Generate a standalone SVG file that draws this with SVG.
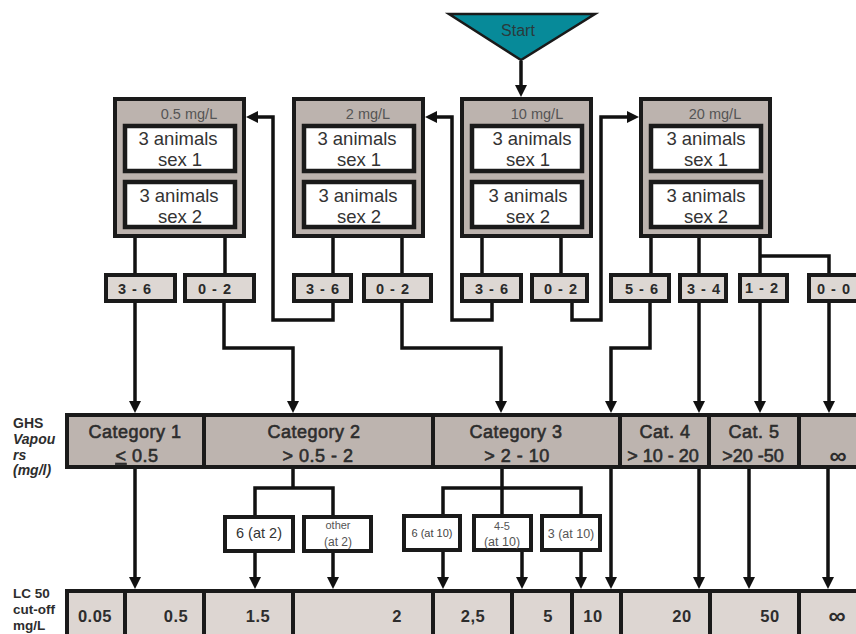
<svg xmlns="http://www.w3.org/2000/svg" width="856" height="634" viewBox="0 0 856 634">
<defs>
<marker id="ah" markerWidth="12" markerHeight="12" refX="6" refY="6" orient="auto" markerUnits="userSpaceOnUse"><path d="M0,0 L12,6 L0,12 z" fill="#111"/></marker>
<style>
text{font-family:"Liberation Sans",Arial,sans-serif;fill:#333}
.outer{fill:#bcb3ae;stroke:#1a1a1a;stroke-width:4}
.inner{fill:#fff;stroke:#1a1a1a;stroke-width:4.5}
.lbl{fill:#ddd7d3;stroke:#1a1a1a;stroke-width:4}
.cat{fill:#bdb4af;stroke:#1a1a1a;stroke-width:4}
.val{fill:#ddd6d2;stroke:#1a1a1a;stroke-width:4}
.sub{fill:#fff;stroke:#1a1a1a;stroke-width:4}
.hd{font-size:14.5px;fill:#555;text-anchor:middle}
.an{font-size:18.5px;text-anchor:middle}
.lt{font-size:14.5px;font-weight:bold;text-anchor:middle;letter-spacing:1px;fill:#2a2a2a}
.ct{font-size:18px;text-anchor:middle;letter-spacing:0.5px;fill:#2d2d2d;stroke:#2d2d2d;stroke-width:0.6}
.vt{font-size:16.5px;font-weight:bold;text-anchor:middle;letter-spacing:0.5px;fill:#2d2d2d}
.inf{font-size:24px;font-weight:bold;text-anchor:middle;fill:#2d2d2d}
.side{font-size:14px;font-weight:bold;fill:#2d2d2d}
.c{stroke:#111;stroke-width:3.5;fill:none}
.ca{stroke:#111;stroke-width:3.5;fill:none;marker-end:url(#ah)}
</style>
</defs>

<g id="start">
<path d="M449,14 L595,14 L521,60 z" fill="#078a99" stroke="#1a1a1a" stroke-width="2.5" stroke-linejoin="miter"/>
<text x="518" y="36" style="font-size:16px;text-anchor:middle;fill:#2a3a3c">Start</text>
</g>

<g id="box-0.5">
<rect class="outer" x="115" y="99" width="129" height="137"/>
<text class="hd" x="189" y="119">0.5 mg/L</text>
<rect class="inner" x="125" y="126" width="110" height="45"/>
<text class="an" x="178" y="145">3 animals</text><text class="an" x="180" y="166">sex 1</text>
<rect class="inner" x="125" y="182" width="110" height="45"/>
<text class="an" x="179" y="202">3 animals</text><text class="an" x="180" y="223">sex 2</text>
</g>

<g id="box-2">
<rect class="outer" x="294" y="99" width="129" height="137"/>
<text class="hd" x="368" y="119">2 mg/L</text>
<rect class="inner" x="304" y="126" width="110" height="45"/>
<text class="an" x="357" y="145">3 animals</text><text class="an" x="359" y="166">sex 1</text>
<rect class="inner" x="304" y="182" width="110" height="45"/>
<text class="an" x="358" y="202">3 animals</text><text class="an" x="359" y="223">sex 2</text>
</g>

<g id="box-10">
<rect class="outer" x="462" y="99" width="129" height="137"/>
<text class="hd" x="537" y="119">10 mg/L</text>
<rect class="inner" x="472" y="126" width="110" height="45"/>
<text class="an" x="532" y="145">3 animals</text><text class="an" x="528" y="166">sex 1</text>
<rect class="inner" x="472" y="182" width="110" height="45"/>
<text class="an" x="528" y="202">3 animals</text><text class="an" x="528" y="223">sex 2</text>
</g>

<g id="box-20">
<rect class="outer" x="641" y="99" width="129" height="137"/>
<text class="hd" x="715" y="119">20 mg/L</text>
<rect class="inner" x="651" y="126" width="110" height="45"/>
<text class="an" x="706" y="145">3 animals</text><text class="an" x="706" y="166">sex 1</text>
<rect class="inner" x="651" y="182" width="110" height="45"/>
<text class="an" x="706" y="202">3 animals</text><text class="an" x="706" y="223">sex 2</text>
</g>

<g id="l1-36"><rect class="lbl" x="106" y="275" width="69" height="26"/><text class="lt" x="135" y="294">3 - 6</text></g>
<g id="l1-02"><rect class="lbl" x="185" y="275" width="69" height="26"/><text class="lt" x="215" y="294">0 - 2</text></g>
<g id="l2-36"><rect class="lbl" x="294" y="275" width="57" height="26"/><text class="lt" x="323" y="294">3 - 6</text></g>
<g id="l2-02"><rect class="lbl" x="364" y="275" width="67" height="26"/><text class="lt" x="393" y="294">0 - 2</text></g>
<g id="l3-36"><rect class="lbl" x="462" y="275" width="59" height="26"/><text class="lt" x="492" y="294">3 - 6</text></g>
<g id="l3-02"><rect class="lbl" x="532" y="275" width="55" height="26"/><text class="lt" x="561" y="294">0 - 2</text></g>
<g id="l4-56"><rect class="lbl" x="611" y="275" width="58" height="26"/><text class="lt" x="642" y="294">5 - 6</text></g>
<g id="l4-34"><rect class="lbl" x="680" y="275" width="46" height="26"/><text class="lt" x="704" y="294">3 - 4</text></g>
<g id="l4-12"><rect class="lbl" x="740" y="275" width="47" height="26"/><text class="lt" x="762" y="293">1 - 2</text></g>
<g id="l4-00"><rect class="lbl" x="809" y="275" width="60" height="26"/><text class="lt" x="834" y="294">0 - 0</text></g>

<g id="ghs-label">
<text class="side" x="13" y="428">GHS</text>
<text class="side" x="13" y="444" font-style="italic">Vapou</text>
<text class="side" x="13" y="460" font-style="italic">rs</text>
<text class="side" x="13" y="475" font-style="italic">(mg/l)</text>
</g>
<g id="lc50-label">
<text class="side" x="13" y="598" style="font-size:13.5px">LC 50</text>
<text class="side" x="13" y="614" style="font-size:13.5px">cut-off</text>
<text class="side" x="13" y="630" style="font-size:13.5px">mg/L</text>
</g>

<g id="cat1"><rect class="cat" x="67" y="415" width="137" height="52"/><text class="ct" x="135" y="438">Category 1</text><text class="ct" x="137" y="462"><tspan text-decoration="underline">&lt;</tspan> 0.5</text></g>
<g id="cat2"><rect class="cat" x="204" y="415" width="229" height="52"/><text class="ct" x="314" y="438">Category 2</text><text class="ct" x="318" y="462">&gt; 0.5 - 2</text></g>
<g id="cat3"><rect class="cat" x="433" y="415" width="187" height="52"/><text class="ct" x="516" y="438">Category 3</text><text class="ct" x="517" y="462">&gt; 2 - 10</text></g>
<g id="cat4"><rect class="cat" x="620" y="415" width="89" height="52"/><text class="ct" x="665" y="438">Cat. 4</text><text class="ct" x="663" y="462" style="letter-spacing:0">&gt; 10 - 20</text></g>
<g id="cat5"><rect class="cat" x="709" y="415" width="90" height="52"/><text class="ct" x="754" y="438">Cat. 5</text><text class="ct" x="753" y="462" style="letter-spacing:0">&gt;20 -50</text></g>
<g id="cat-inf"><rect class="cat" x="799" y="415" width="70" height="52"/><text class="inf" x="838" y="464">∞</text></g>

<g id="s-6at2"><rect class="sub" x="225" y="517" width="68" height="34"/><text x="259" y="538" style="font-size:14.5px;text-anchor:middle">6 (at 2)</text></g>
<g id="s-other"><rect class="sub" x="304" y="517" width="67" height="34"/><text x="338" y="529" style="font-size:11px;text-anchor:middle;fill:#555">other</text><text x="338" y="546" style="font-size:12px;text-anchor:middle;fill:#555">(at 2)</text></g>
<g id="s-6at10"><rect class="sub" x="404" y="516" width="56" height="34"/><text x="432" y="537" style="font-size:11px;text-anchor:middle;fill:#444">6 (at 10)</text></g>
<g id="s-45at10"><rect class="sub" x="474" y="516" width="57" height="34"/><text x="502" y="530" style="font-size:11px;text-anchor:middle;fill:#555">4-5</text><text x="502" y="546" style="font-size:12.5px;text-anchor:middle;fill:#555">(at 10)</text></g>
<g id="s-3at10"><rect class="sub" x="542" y="516" width="58" height="34"/><text x="571" y="538" style="font-size:12.5px;text-anchor:middle;fill:#555">3 (at 10)</text></g>

<g id="v005"><rect class="val" x="67" y="591" width="58" height="50"/><text class="vt" x="95" y="622">0.05</text></g>
<g id="v05"><rect class="val" x="125" y="591" width="79" height="50"/><text class="vt" x="176" y="622">0.5</text></g>
<g id="v15"><rect class="val" x="204" y="591" width="89" height="50"/><text class="vt" x="258" y="622">1.5</text></g>
<g id="v2"><rect class="val" x="293" y="591" width="140" height="50"/><text class="vt" x="397" y="622">2</text></g>
<g id="v25"><rect class="val" x="433" y="591" width="79" height="50"/><text class="vt" x="473" y="622">2,5</text></g>
<g id="v5"><rect class="val" x="512" y="591" width="60" height="50"/><text class="vt" x="548" y="622">5</text></g>
<g id="v10"><rect class="val" x="572" y="591" width="49" height="50"/><text class="vt" x="593" y="622">10</text></g>
<g id="v20"><rect class="val" x="621" y="591" width="89" height="50"/><text class="vt" x="682" y="622">20</text></g>
<g id="v50"><rect class="val" x="710" y="591" width="89" height="50"/><text class="vt" x="770" y="622">50</text></g>
<g id="vinf"><rect class="val" x="799" y="591" width="70" height="50"/><text class="inf" x="837" y="624">∞</text></g>

<g id="connectors">
<path class="ca" d="M521,61 V91"/>
<path class="c" d="M135,238 V273"/>
<path class="c" d="M225,238 V273"/>
<path class="ca" d="M135,303 V407"/>
<path class="ca" d="M224,303 V348 H293 V407"/>
<path class="c" d="M333,238 V273"/>
<path class="c" d="M402,238 V273"/>
<path class="ca" d="M333,303 V320 H273 V117 H252"/>
<path class="ca" d="M402,303 V348 H501 V407"/>
<path class="c" d="M482,238 V273"/>
<path class="ca" d="M492,303 V320 H452 V117 H431"/>
<path class="c" d="M561,238 V273"/>
<path class="ca" d="M572,303 V320 H601 V117 H633"/>
<path class="c" d="M651,238 V273"/>
<path class="ca" d="M650,303 V348 H611 V407"/>
<path class="c" d="M699,238 V273"/>
<path class="ca" d="M699,303 V407"/>
<path class="c" d="M760,238 V273"/>
<path class="c" d="M760,256 H829 V273"/>
<path class="ca" d="M760,303 V407"/>
<path class="ca" d="M829,303 V407"/>
<path class="ca" d="M135,469 V583"/>
<path class="c" d="M293,469 V488"/>
<path class="c" d="M255,515 V488 H333 V515"/>
<path class="ca" d="M255,553 V583"/>
<path class="ca" d="M333,553 V583"/>
<path class="c" d="M502,469 V514"/>
<path class="c" d="M443,514 V488 H581 V514"/>
<path class="ca" d="M443,552 V583"/>
<path class="ca" d="M522,552 V583"/>
<path class="ca" d="M581,552 V583"/>
<path class="ca" d="M611,469 V583"/>
<path class="ca" d="M699,469 V583"/>
<path class="ca" d="M749,469 V583"/>
<path class="ca" d="M828,469 V583"/>
</g>
</svg>
